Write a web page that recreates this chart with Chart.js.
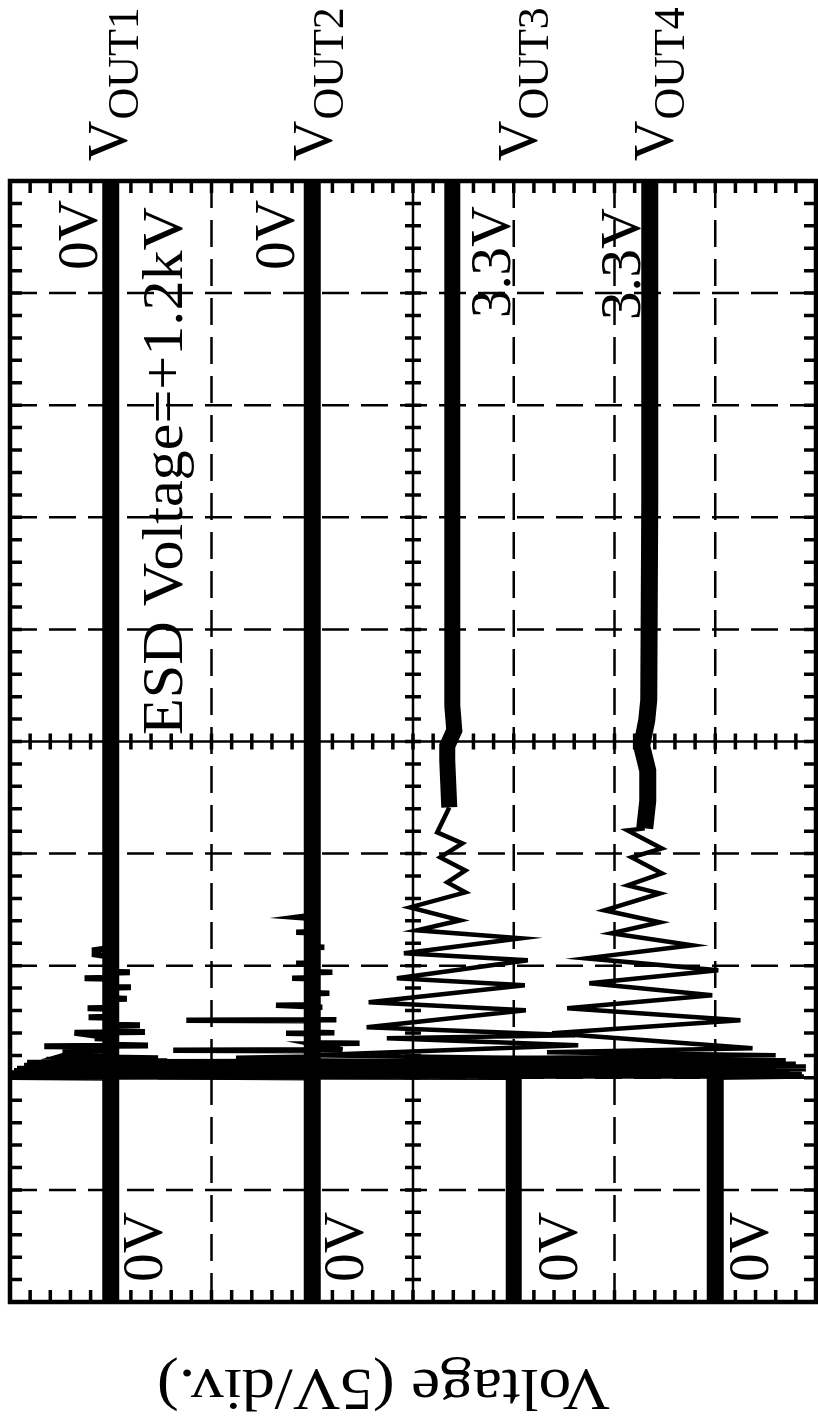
<!DOCTYPE html>
<html>
<head>
<meta charset="utf-8">
<script src="https://cdn.jsdelivr.net/npm/chart.js@4"></script>
<style>
  html, body { margin: 0; padding: 0; background: #fff; }
  #wrap { width: 818px; height: 1421px; position: relative; }
</style>
</head>
<body>
<div id="wrap"><canvas id="c"></canvas></div>
<script>
// ---------- scope settings ----------
const voltPerDiv = 5;                       // 5 V/div
const voltGrid = [-20, -15, -10, -5, 0, 5, 10, 15, 20];   // screen volts (8 div)
const timeGrid = [0, 1, 2, 3, 4, 5, 6, 7, 8, 9, 10];      // time divisions
const channelNames = ['VOUT1', 'VOUT2', 'VOUT3', 'VOUT4'];
const channelZero = [15, 5, -5, -15];       // screen position of each channel's 0 V

// ---------- V_OUT1 ----------
const out1BaseT = [0, 10];
const out1BaseV = [0, 0];
const out1NoiseT = [2.000, 2.008, 2.016, 2.024, 2.032, 2.040, 2.050, 2.060, 2.068, 2.080, 2.094, 2.107,
  2.121, 2.134, 2.148, 2.160, 2.175, 2.188, 2.201, 2.214,
  2.222, 2.228, 2.236, 2.242, 2.278, 2.282, 2.288, 2.294, 2.349, 2.353, 2.357, 2.402, 2.408, 2.414,
  2.465, 2.469, 2.473, 2.536, 2.540, 2.544, 2.616, 2.620, 2.624, 2.700, 2.705, 2.710,
  2.803, 2.807, 2.811, 2.884, 2.888, 2.892, 2.937, 2.941, 2.945, 3.08, 3.10, 3.14, 3.16];
const out1NoiseV = [0, 5.0, -7.35, 4.9, -6.5, 5.0, -5.85, 4.8, -5.0, 4.65, -4.35, 4.3,
  -3.5, 4.15, -2.8, 3.2, -2.35, 2.5, 2.25, 0,
  2.25, 2.25, 2.25, 0, 0, 3.3, -1.85, 0, 0, 0.8, 0, 1.8, -1.7, 0,
  0, -1.45, 0, 0, 1.1, 0, 0, 1.15, 0, 0, -0.8, 0,
  0, -1.0, 0, 0, 1.3, 0, 0, -0.95, 0, 0, 0.8, 0.8, 0];

// ---------- V_OUT2 ----------
const out2BaseT = [0, 10];
const out2BaseV = [0, 0];
const out2NoiseT = [2.000, 2.010, 2.020, 2.032, 2.045, 2.059, 2.068, 2.077, 2.090, 2.103, 2.116, 2.130, 2.143,
  2.157, 2.175, 2.185,
  2.242, 2.246, 2.250, 2.304, 2.308, 2.312, 2.394, 2.398, 2.402, 2.406,
  2.509, 2.513, 2.517, 2.521, 2.625, 2.629, 2.647, 2.651, 2.750, 2.754, 2.758,
  2.884, 2.888, 2.892, 2.937, 2.941, 2.945, 3.017, 3.021, 3.025, 3.160, 3.164, 3.168,
  3.294, 3.298, 3.302, 3.420, 3.431, 3.450];
const out2NoiseV = [0, 7.65, -12.35, 7.4, -11.0, 7.15, -9.35, 6.4, -8.0, 5.65, -6.85, 4.5, -4.0,
  3.65, 3.65, 0,
  0, 6.9, -1.5, 0, -2.35, 0, 0, 1.3, -1.1, 0,
  0, 6.25, -1.2, 0, 0, -0.5, 1.8, 0, 0, -0.85, 0,
  0, 1.0, 0, 0, -1.0, 0, 0, 0.8, 0, 0, -0.6, 0,
  0, 0.8, 0, 0, 0.8, 0];

// ---------- V_OUT3 ----------
const out3PreT = [0, 2.0];
const out3PreV = [0, 0];
const out3RingT = [2.000, 2.007, 2.014, 2.023, 2.032, 2.041, 2.050, 2.059, 2.068, 2.077, 2.086, 2.094,
  2.103, 2.112, 2.121, 2.130, 2.139, 2.148, 2.157, 2.166,
  2.201, 2.291, 2.353, 2.380, 2.451, 2.602, 2.674, 2.825, 2.888, 3.048, 3.111, 3.244,
  3.316, 3.405, 3.520, 3.654, 3.743, 3.850, 3.966, 4.091, 4.189, 4.412];
const out3RingV = [0, 24.8, -14.2, 24.7, -14.0, 24.55, -13.7, 24.2, -13.0, 23.8, -12.6, 22.8,
  -12.2, 21.8, -10.5, 20.0, -9.2, 18.3, -7.0, -5.2,
  10.0, -3.2, 6.3, -3.05, 7.3, -0.6, 7.2, -0.55, 5.8, -0.7, 5.45, -0.35,
  4.8, 2.65, 5.15, 2.4, 3.3, 2.4, 3.65, 2.55, 3.8, 3.2];
const out3SettleT = [4.412, 4.83, 4.96, 5.10, 5.32, 6.5, 10];
const out3SettleV = [3.2, 3.3, 3.3, 2.95, 3.05, 3.05, 3.05];

// ---------- V_OUT4 ----------
const out4PreT = [0, 2.0];
const out4PreV = [0, 0];
const out4RingT = [2.000, 2.012, 2.023, 2.032, 2.041, 2.055, 2.068, 2.077, 2.086, 2.100, 2.112, 2.125,
  2.139, 2.157, 2.175, 2.201, 2.228, 2.264,
  2.398, 2.513, 2.620, 2.736, 2.843, 2.959, 3.066, 3.182, 3.289, 3.387, 3.494, 3.645,
  3.717, 3.824, 3.966, 4.046, 4.207, 4.225];
const out4RingV = [0, -4.4, 15, -4.3, 14.0, -4.25, 13.5, -4.5, 13.0, -4.5, 12.5, -4.0,
  11.5, -3.5, 11, -3, 8.35, -1.85,
  8.1, -1.25, 7.35, 0.15, 6.25, -0.15, 6.4, 1.15, 5.15, 2.75, 5.5, 2.75,
  4.35, 2.65, 4.15, 2.65, 4.35, 3.5];
const out4SettleT = [4.225, 4.47, 4.74, 4.96, 5.19, 5.37, 7.15, 10];
const out4SettleV = [3.5, 3.35, 3.35, 3.65, 3.4, 3.3, 3.25, 3.25];

// ---------- build ----------
function series(ch, T, V) {
  return T.map((t, i) => ({ x: V[i] + channelZero[ch], y: t }));
}
function ds(data, w) {
  return { data, borderColor: '#000', backgroundColor: '#000', borderWidth: w,
    pointRadius: 0, showLine: true, tension: 0, borderCapStyle: 'butt',
    borderJoinStyle: 'miter', fill: false, spanGaps: true };
}

const datasets = [
  ds(series(0, out1BaseT, out1BaseV), 17),
  ds(series(1, out2BaseT, out2BaseV), 17),
  ds(series(2, out3PreT, out3PreV), 16),
  ds(series(3, out4PreT, out4PreV), 17),
  ds(series(2, out3SettleT, out3SettleV), 16),
  ds(series(3, out4SettleT, out4SettleV), 17),
  ds(series(0, out1NoiseT, out1NoiseV), 6),
  ds(series(1, out2NoiseT, out2NoiseV), 5.5),
  ds(series(2, out3RingT, out3RingV), 4.5),
  ds(series(3, out4RingT, out4RingV), 4.5)
];

const FONT = '"Liberation Serif", "Times New Roman", Times, serif';
function rotText(ctx, str, x, y, angle, size, targetLen, dx, dy) {
  ctx.save();
  ctx.translate(x, y);
  ctx.rotate(angle);
  ctx.font = size + 'px ' + FONT;
  ctx.textAlign = 'left';
  ctx.textBaseline = 'alphabetic';
  ctx.fillStyle = '#000';
  const w = ctx.measureText(str).width;
  if (targetLen) ctx.scale(targetLen / w, 1);
  ctx.fillText(str, dx || 0, dy || 0);
  ctx.restore();
  return targetLen || w;
}

const scopePlugin = {
  id: 'scope',
  beforeDatasetsDraw(chart) {
    const { ctx, chartArea: a, scales: { x, y } } = chart;
    ctx.save();
    ctx.strokeStyle = '#000';
    ctx.lineCap = 'butt';
    ctx.lineWidth = 2.5;
    ctx.setLineDash([27, 12]);
    voltGrid.forEach(v => {
      if (v === 0 || Math.abs(v) === 20) return;
      const px = x.getPixelForValue(v);
      ctx.beginPath(); ctx.moveTo(px, a.top); ctx.lineTo(px, a.bottom); ctx.stroke();
    });
    timeGrid.forEach(t => {
      if (t === 5 || t === 0 || t === 10) return;
      const py = y.getPixelForValue(t);
      ctx.beginPath(); ctx.moveTo(a.left, py); ctx.lineTo(a.right, py); ctx.stroke();
    });
    ctx.setLineDash([]);
    const xc = x.getPixelForValue(0), yc = y.getPixelForValue(5);
    ctx.lineWidth = 2.5;
    ctx.beginPath(); ctx.moveTo(xc, a.top); ctx.lineTo(xc, a.bottom); ctx.stroke();
    ctx.beginPath(); ctx.moveTo(a.left, yc); ctx.lineTo(a.right, yc); ctx.stroke();
    ctx.lineWidth = 3.5;
    for (let i = -20; i <= 20; i++) {
      const px = x.getPixelForValue(i * voltPerDiv / 5);
      ctx.beginPath();
      ctx.moveTo(px, yc - 8); ctx.lineTo(px, yc + 8);
      ctx.moveTo(px, a.top); ctx.lineTo(px, a.top + 12);
      ctx.moveTo(px, a.bottom - 12); ctx.lineTo(px, a.bottom);
      ctx.stroke();
    }
    for (let i = 0; i <= 50; i++) {
      const py = y.getPixelForValue(i / 5);
      ctx.beginPath();
      ctx.moveTo(xc - 8, py); ctx.lineTo(xc + 8, py);
      ctx.moveTo(a.left, py); ctx.lineTo(a.left + 12, py);
      ctx.moveTo(a.right - 12, py); ctx.lineTo(a.right, py);
      ctx.stroke();
    }
    ctx.restore();
  },
  afterDatasetsDraw(chart) {
    const { ctx, chartArea: a } = chart;
    ctx.save();
    ctx.strokeStyle = '#000';
    ctx.lineWidth = 4.5;
    ctx.strokeRect(a.left, a.top, a.right - a.left, a.bottom - a.top);
    ctx.restore();

    const up = -Math.PI / 2;
    const labelBase = [127, 332, 537, 673];
    channelNames.forEach((n, i) => {
      const w = rotText(ctx, 'V', labelBase[i], 161, up, 56);
      rotText(ctx, n.slice(1), labelBase[i], 161, up, 44, null, w + 1, 11);
    });
    rotText(ctx, '0V', 97, 270, up, 56, 70);
    rotText(ctx, '0V', 294, 270, up, 56, 70);
    rotText(ctx, '3.3V', 510, 318, up, 56, 112);
    rotText(ctx, '3.3V', 640, 320, up, 56, 112);
    [162, 363, 577, 768].forEach(bx => rotText(ctx, '0V', bx, 1282, up, 56, 70));
    rotText(ctx, 'ESD Voltage=+1.2kV', 182, 735, up, 56, 528);
    rotText(ctx, 'Voltage (5V/div.)', 610, 1370, Math.PI, 60, 453);
  }
};

function build() {
  new Chart(document.getElementById('c'), {
    type: 'scatter',
    data: { datasets },
    options: {
      responsive: true,
      maintainAspectRatio: false,
      animation: false,
      layout: { padding: { left: 10, top: 181, right: 2, bottom: 119 } },
      plugins: { legend: { display: false }, tooltip: { enabled: false } },
      scales: {
        x: { type: 'linear', min: -20, max: 20, reverse: true, display: false },
        y: { type: 'linear', min: 0, max: 10, display: false }
      }
    },
    plugins: [scopePlugin]
  });
}
if (document.fonts && document.fonts.load) {
  document.fonts.load('56px "Liberation Serif"').then(build, build);
} else {
  build();
}
</script>
</body>
</html>
